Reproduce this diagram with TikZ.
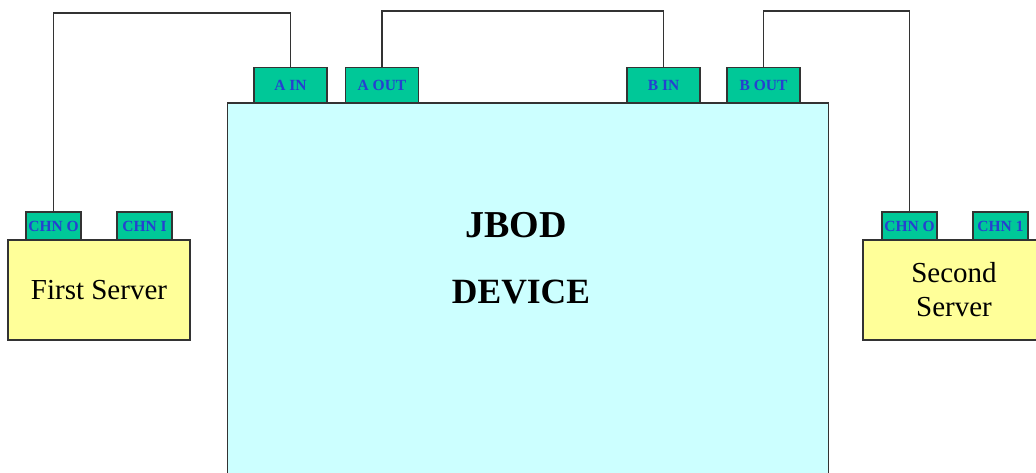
\documentclass[tikz,border=0pt]{standalone}
\usepackage{fontspec}
\setmainfont{Liberation Serif}
\definecolor{portgreen}{HTML}{00C898}
\definecolor{portblue}{HTML}{2640D0}
\definecolor{jbodfill}{HTML}{CCFFFF}
\definecolor{srvfill}{HTML}{FFFF99}
\definecolor{linegray}{HTML}{333333}
\tikzset{
  port/.style={draw=linegray, fill=portgreen, line width=1.2pt, inner sep=0pt,
    minimum width=73pt, minimum height=35pt, text=portblue,
    font=\fontsize{15.5}{16}\selectfont\bfseries},
  chn/.style={port, minimum width=55pt, minimum height=28pt},
  server/.style={draw=linegray, fill=srvfill, line width=1.3pt, inner sep=0pt,
    minimum height=100pt, align=center, font=\fontsize{29}{34}\selectfont},
  jbodbox/.style={draw=linegray, fill=jbodfill, line width=1.4pt, inner sep=0pt,
    minimum width=601pt, minimum height=420pt},
  bigtxt/.style={font=\bfseries, inner sep=0pt},
  wire/.style={draw=linegray, line width=1.4pt}
}
\begin{document}
\begin{tikzpicture}[x=1pt,y=-1pt]
\useasboundingbox (0,0) rectangle (1036,473);
% JBOD device
\node[jbodbox, anchor=north west] (jbod) at (227,102.5) {};
\node[bigtxt, anchor=base, font=\fontsize{38}{40}\selectfont\bfseries] (t1) at (516,237) {JBOD};
\node[bigtxt, anchor=base, font=\fontsize{35.5}{40}\selectfont\bfseries] (t2) at (521,303) {DEVICE};
% ports on JBOD
\node[port] (ain)  at (290.5,85) {A IN};
\node[port] (aout) at (382,85) {A OUT};
\node[port] (bin)  at (663.5,85) {B IN};
\node[port] (bout) at (763.5,85) {B OUT};
% servers
\node[server, minimum width=182pt] (s1) at (99,290) {First Server};
\node[server, minimum width=182pt] (s2) at (954,290) {Second\\Server};
\node[chn] (c10) at (53.5,226) {CHN O};
\node[chn] (c11) at (144.5,226) {CHN I};
\node[chn] (c20) at (909.5,226) {CHN O};
\node[chn] (c21) at (1000.5,226) {CHN 1};
% wire levels
\coordinate (l1) at (0,13);
\coordinate (l2) at (0,11);
% wires
\draw[wire] (ain.north) -- (ain.north |- l1) -| (c10.north);
\draw[wire] (aout.north) -- (aout.north |- l2) -| (bin.north);
\draw[wire] (bout.north) -- (bout.north |- l2) -| (c20.north);
\end{tikzpicture}
\end{document}
